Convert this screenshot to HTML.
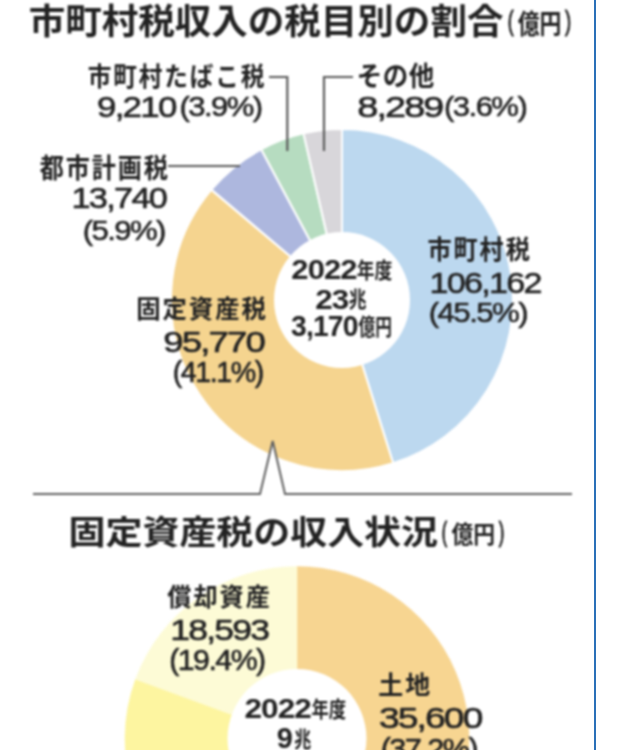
<!DOCTYPE html>
<html lang="ja"><head><meta charset="utf-8"><title>市町村税収入の税目別の割合</title>
<style>html,body{margin:0;padding:0;position:relative;background:#fff;width:618px;height:750px;overflow:hidden}
svg{display:block;filter:blur(0.8px)} text{font-family:"Liberation Sans", "Noto Sans CJK JP", sans-serif;font-size:100px}</style></head>
<body><svg width="630" height="762" viewBox="-6 -6 630 762" style="position:absolute;left:-6px;top:-6px">
<path d="M342.00,300.00 L342.00,129.00 A171,171 0 0 1 393.14,463.18 Z" fill="#bcd8ef" stroke="#fff" stroke-width="2" stroke-linejoin="round"/>
<path d="M342.00,300.00 L393.14,463.18 A171,171 0 0 1 211.39,189.63 Z" fill="#f5d48f" stroke="#fff" stroke-width="2" stroke-linejoin="round"/>
<path d="M342.00,300.00 L211.39,189.63 A171,171 0 0 1 261.19,149.30 Z" fill="#adb7de" stroke="#fff" stroke-width="2" stroke-linejoin="round"/>
<path d="M342.00,300.00 L261.19,149.30 A171,171 0 0 1 303.53,133.38 Z" fill="#b6dcc0" stroke="#fff" stroke-width="2" stroke-linejoin="round"/>
<path d="M342.00,300.00 L303.53,133.38 A171,171 0 0 1 342.00,129.00 Z" fill="#d8d6da" stroke="#fff" stroke-width="2" stroke-linejoin="round"/>
<circle cx="342" cy="300" r="68" fill="#fff"/>
<path d="M297.00,738.50 L297.00,566.50 A172,172 0 0 1 420.89,857.81 Z" fill="#f7d591" stroke="#f7d591" stroke-width="0.5"/>
<path d="M297.00,738.50 L420.89,857.81 A172,172 0 0 1 135.54,679.22 Z" fill="#fdf5a0" stroke="#fdf5a0" stroke-width="0.5"/>
<path d="M297.00,738.50 L135.54,679.22 A172,172 0 0 1 297.00,566.50 Z" fill="#fdfbd6" stroke="#fdfbd6" stroke-width="0.5"/>
<circle cx="297" cy="738.5" r="69.5" fill="#fff"/>
<path d="M269,77 H287.3 V151" fill="none" stroke="#5a5a5a" stroke-width="2.2"/>
<path d="M353,77 H324 V151" fill="none" stroke="#5a5a5a" stroke-width="2.2"/>
<path d="M168,166 H240" fill="none" stroke="#5a5a5a" stroke-width="2"/>
<path d="M260,494 L272.7,441 L285,494 Z" fill="#fff"/>
<path d="M33,494 H260 L272.7,441 L285,494 H572" fill="none" stroke="#606060" stroke-width="2" stroke-linejoin="miter"/>
<text transform="translate(28.74,34.05) scale(0.3653,0.3505)" font-weight="700" fill="#222">市町村税収入の税目別の割合</text>
<text transform="translate(507.79,30.41) scale(0.1774,0.2735)" font-weight="400" fill="#222" stroke="#222" stroke-width="4" stroke-linejoin="round">(</text>
<text transform="translate(517.68,33.98) scale(0.2188,0.2691)" font-weight="700" fill="#222">億円</text>
<text transform="translate(564.98,30.41) scale(0.1833,0.2735)" font-weight="400" fill="#222" stroke="#222" stroke-width="4" stroke-linejoin="round">)</text>
<text transform="translate(87.66,86.21) scale(0.2361,0.2653)" font-weight="700" fill="#222" letter-spacing="8">市町村たばこ税</text>
<text transform="translate(97.00,116.70) scale(0.3489,0.3014)" font-weight="400" fill="#222" stroke="#222" stroke-width="2" stroke-linejoin="round" letter-spacing="-5">9,210</text>
<text transform="translate(179.55,116.27) scale(0.3104,0.2671)" font-weight="400" fill="#222" stroke="#222" stroke-width="2" stroke-linejoin="round" letter-spacing="-5">(3.9%)</text>
<text transform="translate(356.81,85.99) scale(0.2548,0.2681)" font-weight="700" fill="#222" letter-spacing="2">その他</text>
<text transform="translate(357.26,116.89) scale(0.3786,0.3041)" font-weight="400" fill="#222" stroke="#222" stroke-width="2" stroke-linejoin="round" letter-spacing="-5">8,289</text>
<text transform="translate(444.05,116.47) scale(0.3108,0.2671)" font-weight="400" fill="#222" stroke="#222" stroke-width="2" stroke-linejoin="round" letter-spacing="-5">(3.6%)</text>
<text transform="translate(39.66,177.56) scale(0.2412,0.2713)" font-weight="700" fill="#222" letter-spacing="8">都市計画税</text>
<text transform="translate(71.50,208.41) scale(0.3432,0.2932)" font-weight="400" fill="#222" stroke="#222" stroke-width="2" stroke-linejoin="round" letter-spacing="-5">13,740</text>
<text transform="translate(82.64,240.44) scale(0.3112,0.2808)" font-weight="400" fill="#222" stroke="#222" stroke-width="2" stroke-linejoin="round" letter-spacing="-5">(5.9%)</text>
<text transform="translate(136.15,317.85) scale(0.2439,0.2547)" font-weight="700" fill="#222" letter-spacing="8">固定資産税</text>
<text transform="translate(163.14,352.02) scale(0.3661,0.2904)" font-weight="400" fill="#222" stroke="#222" stroke-width="2" stroke-linejoin="round" letter-spacing="-5">95,770</text>
<text transform="translate(172.67,381.71) scale(0.2861,0.2887)" font-weight="400" fill="#222" stroke="#222" stroke-width="2" stroke-linejoin="round" letter-spacing="-5">(41.1%)</text>
<text transform="translate(427.54,258.66) scale(0.2411,0.2600)" font-weight="700" fill="#222" letter-spacing="8">市町村税</text>
<text transform="translate(429.41,292.62) scale(0.3416,0.2918)" font-weight="400" fill="#222" stroke="#222" stroke-width="2" stroke-linejoin="round" letter-spacing="-5">106,162</text>
<text transform="translate(428.74,321.63) scale(0.3119,0.2847)" font-weight="400" fill="#222" stroke="#222" stroke-width="2" stroke-linejoin="round" letter-spacing="-5">(45.5%)</text>
<text transform="translate(291.37,278.92) scale(0.3102,0.2775)" font-weight="700" fill="#222" letter-spacing="-3">2022</text>
<text transform="translate(356.79,277.63) scale(0.1782,0.2167)" font-weight="700" fill="#222">年度</text>
<text transform="translate(315.16,308.92) scale(0.3139,0.2845)" font-weight="700" fill="#222" letter-spacing="-3">23</text>
<text transform="translate(348.86,307.43) scale(0.1787,0.2170)" font-weight="700" fill="#222">兆</text>
<text transform="translate(291.03,336.01) scale(0.2828,0.2859)" font-weight="700" fill="#222" letter-spacing="-3">3,170</text>
<text transform="translate(358.43,334.98) scale(0.1672,0.2245)" font-weight="700" fill="#222">億円</text>
<text transform="translate(68.54,543.69) scale(0.3696,0.3305)" font-weight="700" fill="#222">固定資産税の収入状況</text>
<text transform="translate(441.85,540.86) scale(0.1613,0.2714)" font-weight="400" fill="#222" stroke="#222" stroke-width="4" stroke-linejoin="round">(</text>
<text transform="translate(451.38,542.87) scale(0.2182,0.2362)" font-weight="700" fill="#222">億円</text>
<text transform="translate(498.87,540.86) scale(0.1667,0.2714)" font-weight="400" fill="#222" stroke="#222" stroke-width="4" stroke-linejoin="round">)</text>
<text transform="translate(167.36,606.44) scale(0.2419,0.2558)" font-weight="700" fill="#222" letter-spacing="8">償却資産</text>
<text transform="translate(170.21,640.41) scale(0.3556,0.2932)" font-weight="400" fill="#222" stroke="#222" stroke-width="2" stroke-linejoin="round" letter-spacing="-5">18,593</text>
<text transform="translate(169.18,670.42) scale(0.3032,0.2877)" font-weight="400" fill="#222" stroke="#222" stroke-width="2" stroke-linejoin="round" letter-spacing="-5">(19.4%)</text>
<text transform="translate(378.25,693.97) scale(0.2493,0.2538)" font-weight="700" fill="#222" letter-spacing="8">土地</text>
<text transform="translate(378.88,727.99) scale(0.3720,0.3041)" font-weight="400" fill="#222" stroke="#222" stroke-width="2" stroke-linejoin="round" letter-spacing="-5">35,600</text>
<text transform="translate(380.67,759.41) scale(0.3065,0.2945)" font-weight="400" fill="#222" stroke="#222" stroke-width="2" stroke-linejoin="round" letter-spacing="-5">(37.2%)</text>
<text transform="translate(244.45,717.62) scale(0.3160,0.2775)" font-weight="700" fill="#222" letter-spacing="-3">2022</text>
<text transform="translate(311.40,716.55) scale(0.1741,0.2146)" font-weight="700" fill="#222">年度</text>
<text transform="translate(276.84,748.10) scale(0.2896,0.3014)" font-weight="700" fill="#222">9</text>
<text transform="translate(294.29,746.59) scale(0.1702,0.2213)" font-weight="700" fill="#222">兆</text>
</svg><div style="position:absolute;left:594px;top:0;width:2.2px;height:750px;background:#2a70b8"></div></body></html>
